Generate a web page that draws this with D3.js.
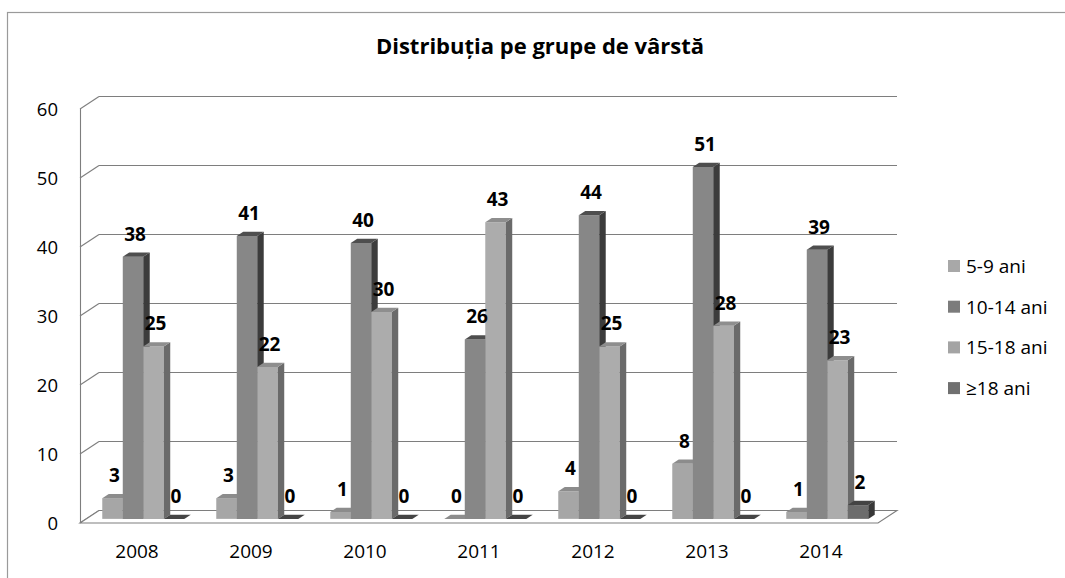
<!DOCTYPE html>
<html><head><meta charset="utf-8">
<script src="https://cdn.jsdelivr.net/npm/d3@7"></script>
<style>body{margin:0;background:#fff}svg{display:block}</style>
</head><body>
<svg id="c" width="1065" height="578"></svg>
<script>
const years = ["2008","2009","2010","2011","2012","2013","2014"];
const seriesNames = ["5-9 ani","10-14 ani","15-18 ani","≥18 ani"];
const s5_9   = [3,3,1,0,4,8,1];
const s10_14 = [38,41,40,26,44,51,39];
const s15_18 = [25,22,30,43,25,28,23];
const s18    = [0,0,0,0,0,0,2];
const yTicks = [0,10,20,30,40,50,60];
const seriesValues = [s5_9, s10_14, s15_18, s18];

const frontCol = ["#a6a6a6","#878787","#acacac","#6c6c6c"];
const topCol   = ["#8c8c8c","#4e4e4e","#8e8e8e","#444444"];
const sideCol  = ["#7a7a7a","#3c3c3c","#6a6a6a","#383838"];
const legCol   = ["#a8a8a8","#7c7c7c","#a4a4a4","#707070"];

const svg = d3.select("#c");
const F = "'Open Sans', sans-serif";
const DX = 19, DY = 12.5;           // full depth offset
const z0 = 0.33, z1 = 0.67;         // bar depth range

const x = d3.scaleBand().domain(years).range([80, 878]);
const xs = d3.scaleBand().domain(d3.range(4)).range([0, x.bandwidth()]).paddingOuter(0.78);
const y = d3.scaleLinear().domain([0, 60]).range([523, 109]);

// outer frame
svg.append("rect").attr("x",7.5).attr("y",12.5).attr("width",1080).attr("height",600)
  .attr("fill","none").attr("stroke","#9a9a9a").attr("stroke-width",1.2);

// title
svg.append("text").attr("x",540).attr("y",54).attr("text-anchor","middle")
  .attr("font-family",F).attr("font-weight","bold").attr("font-size",22).attr("fill","#000")
  .text("Distribuția pe grupe de vârstă");

// back wall gridlines + left wall diagonals
const g = svg.append("g").attr("stroke","#7e7e7e").attr("stroke-width",1.1).attr("fill","none");
yTicks.forEach(t => {
  const yf = y(t), yb = y(t) - DY;
  if (t > 0) g.append("line").attr("x1",80+DX).attr("x2",878+DX).attr("y1",yb).attr("y2",yb);
  g.append("line").attr("x1",80).attr("y1",yf).attr("x2",80+DX).attr("y2",yb);
});
g.append("line").attr("x1",80.5).attr("x2",80.5).attr("y1",y(60)).attr("y2",y(0));

// floor
svg.append("path")
  .attr("d", `M80,${y(0)}L878,${y(0)}L${878+DX},${y(0)-DY}L${80+DX},${y(0)-DY}Z`)
  .attr("fill","#fff").attr("stroke","#7e7e7e").attr("stroke-width",1.1);

// y tick labels
svg.append("g").selectAll("text").data(yTicks).join("text")
  .attr("x",58).attr("y",d=>y(d)).attr("dy","0.36em").attr("text-anchor","end")
  .attr("font-family",F).attr("font-size",18.5).attr("fill","#000").text(d=>d);

// x labels
svg.append("g").selectAll("text").data(years).join("text")
  .attr("x",d=>x(d)+x.bandwidth()/2).attr("y",558).attr("text-anchor","middle")
  .attr("font-family",F).attr("font-size",19).attr("fill","#000").text(d=>d);

// bars
const bars = [];
years.forEach((yr,i) => {
  seriesValues.forEach((vals,s) => bars.push({yr, s, v: vals[i]}));
});
const bw = xs.bandwidth();
const ox0 = z0*DX, oy0 = z0*DY, ddx = (z1-z0)*DX, ddy = (z1-z0)*DY;
const bg = svg.append("g");
bars.forEach(b => {
  const xl = x(b.yr) + xs(b.s) + ox0, xr = xl + bw;
  const yt = y(b.v) - oy0, yb = y(0) - oy0;
  bg.append("path").attr("d",`M${xl},${yt}L${xr},${yt}L${xr},${yb}L${xl},${yb}Z`).attr("fill",frontCol[b.s]);
  bg.append("path").attr("d",`M${xr},${yt}L${xr+ddx},${yt-ddy}L${xr+ddx},${yb-ddy}L${xr},${yb}Z`).attr("fill",sideCol[b.s]);
  bg.append("path").attr("d",`M${xl},${yt}L${xr},${yt}L${xr+ddx},${yt-ddy}L${xl+ddx},${yt-ddy}Z`).attr("fill",topCol[b.s]);
});

// value labels
svg.append("g").selectAll("text").data(bars).join("text")
  .attr("x",d=>x(d.yr)+xs(d.s)+ox0+bw/2+2).attr("y",d=>y(d.v)-oy0-16)
  .attr("text-anchor","middle").attr("font-family",F).attr("font-weight","bold")
  .attr("font-size",19).attr("fill","#000").text(d=>d.v);

// legend
const lg = svg.append("g").selectAll("g").data(seriesNames).join("g")
  .attr("transform",(d,i)=>`translate(948,${266 + i*40.7})`);
lg.append("rect").attr("x",0).attr("y",-6).attr("width",12).attr("height",12).attr("fill",(d,i)=>legCol[i]);
lg.append("text").attr("x",18).attr("dy","0.36em").attr("font-family",F).attr("font-size",19)
  .attr("fill","#000").text(d=>d);
</script>
</body></html>
